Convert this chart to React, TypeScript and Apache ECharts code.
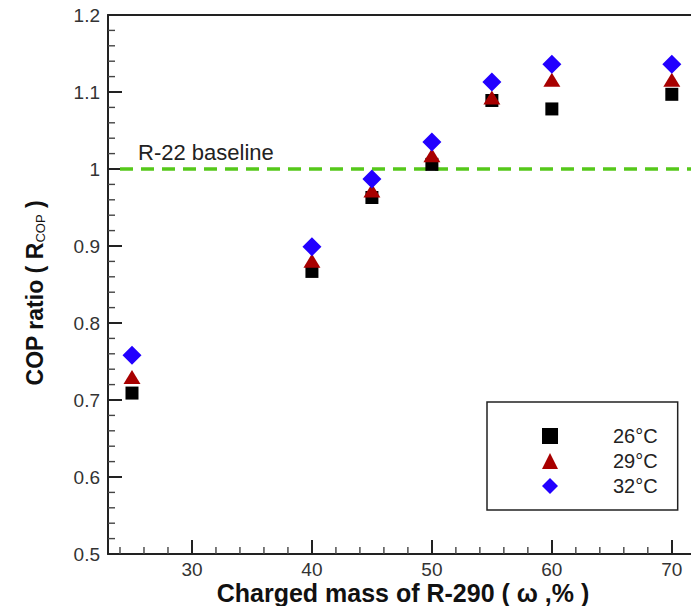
import React, { useEffect, useRef } from "react";
import * as echarts from "echarts";

const chargedMass = [25, 40, 45, 50, 55, 60, 70];
const seriesNames = ["26°C", "29°C", "32°C"];
const cop26 = [0.709, 0.867, 0.963, 1.006, 1.089, 1.078, 1.097];
const cop29 = [0.730, 0.881, 0.972, 1.018, 1.093, 1.116, 1.116];
const cop32 = [0.758, 0.899, 0.987, 1.035, 1.113, 1.136, 1.136];
const xMajorTicks = [30, 40, 50, 60, 70];
const xMinorTicks = [24, 26, 28, 32, 34, 36, 38, 42, 44, 46, 48, 52, 54, 56, 58, 62, 64, 66, 68];
const yMajorTicks = [0.6, 0.7, 0.8, 0.9, 1.0, 1.1];
const yMinorTicks = [
  0.52, 0.54, 0.56, 0.58, 0.62, 0.64, 0.66, 0.68, 0.72, 0.74, 0.76, 0.78,
  0.82, 0.84, 0.86, 0.88, 0.92, 0.94, 0.96, 0.98, 1.02, 1.04, 1.06, 1.08,
  1.12, 1.14, 1.16, 1.18,
];
const baselineValue = 1;

const FONT = "'Liberation Sans', Arial, Helvetica, sans-serif";
const AXIS_COLOR = "#222";
const LABEL_COLOR = "#333";
const X_MIN = 23;
const X_MAX = 71.6;
const Y_MIN = 0.5;
const Y_MAX = 1.2;
const W = 691;
const H = 606;

export default function App() {
  const ref = useRef<HTMLDivElement>(null);
  useEffect(() => {
    if (!ref.current) return;
    const chart = echarts.init(ref.current, null, { renderer: "svg" });
    const pairs = (ys: number[]) => chargedMass.map((x, i) => [x, ys[i]]);
    const textGraphics: any[] = [
      {
        id: "baselineText",
        type: "text",
        x: 138,
        y: 152,
        style: { text: "R-22 baseline", fontSize: 22, fill: "#222", fontFamily: FONT, verticalAlign: "middle", align: "left" },
      },
      {
        id: "xTitle",
        type: "text",
        x: 403,
        y: 593,
        style: {
          text: "Charged mass of R-290 ( ω ,% )",
          fontSize: 25,
          fontWeight: "bold",
          fill: "#111",
          fontFamily: FONT,
          align: "center",
          verticalAlign: "middle",
        },
      },
      {
        id: "yTitle",
        type: "text",
        x: 35,
        y: 293,
        rotation: Math.PI / 2,
        style: {
          text: "COP ratio ( R{sub|COP} )",
          fontSize: 23,
          fontWeight: "bold",
          fill: "#111",
          fontFamily: FONT,
          align: "center",
          verticalAlign: "middle",
          rich: {
            sub: { fontSize: 13, fontWeight: "normal", fontFamily: FONT, fill: "#111", padding: [10, 0, 0, 0] },
          },
        },
      },
    ];
    const option: any = {
      animation: false,
      backgroundColor: "#fff",
      textStyle: { fontFamily: FONT },
      grid: { left: 108, top: 15, right: 0, bottom: 52, containLabel: false },
      xAxis: [
        {
          type: "value",
          min: X_MIN,
          max: X_MAX,
          position: "bottom",
          axisLine: { show: true, lineStyle: { color: AXIS_COLOR, width: 2 } },
          axisTick: { show: true, inside: true, length: 14, customValues: xMajorTicks, lineStyle: { color: AXIS_COLOR, width: 2 } },
          axisLabel: { customValues: xMajorTicks, color: LABEL_COLOR, fontSize: 19, margin: 6, fontFamily: FONT },
          splitLine: { show: false },
        },
        {
          type: "value",
          min: X_MIN,
          max: X_MAX,
          position: "top",
          axisLine: { show: true, lineStyle: { color: AXIS_COLOR, width: 2 } },
          axisTick: { show: false },
          axisLabel: { show: false },
          splitLine: { show: false },
        },
      ],
      yAxis: {
        type: "value",
        min: Y_MIN,
        max: Y_MAX,
        interval: 0.1,
        axisLine: { show: true, lineStyle: { color: AXIS_COLOR, width: 2 } },
        axisTick: { show: true, inside: true, length: 14, lineStyle: { color: AXIS_COLOR, width: 2 } },
        axisLabel: { color: LABEL_COLOR, fontSize: 19, margin: 8, fontFamily: FONT },
        splitLine: { show: false },
      },
      legend: {
        orient: "vertical",
        left: 487,
        top: 402,
        padding: [24, 20, 14, 55],
        itemWidth: 16,
        itemHeight: 16,
        itemGap: 5,
        borderColor: AXIS_COLOR,
        borderWidth: 1.5,
        selectedMode: false,
        textStyle: { fontSize: 20, color: "#222", fontFamily: FONT, padding: [0, 0, 0, 50] },
        data: seriesNames,
      },
      series: [
        {
          name: seriesNames[0],
          type: "scatter",
          symbol: "rect",
          symbolSize: 13,
          itemStyle: { color: "#000", opacity: 1 },
          data: pairs(cop26),
          z: 3,
          markLine: {
            silent: true,
            symbol: "none",
            label: { show: false },
            lineStyle: { color: "#55c81a", width: 3.5, type: [13, 8] },
            data: [[{ coord: [24, baselineValue] }, { coord: [X_MAX, baselineValue] }]],
            z: 1,
          },
        },
        {
          name: seriesNames[1],
          type: "scatter",
          symbol: "triangle",
          symbolSize: [17, 14],
          itemStyle: { color: "#a80000", opacity: 1 },
          data: pairs(cop29),
          z: 4,
        },
        {
          name: seriesNames[2],
          type: "scatter",
          symbol: "diamond",
          symbolSize: [19, 19],
          itemStyle: { color: "#2200ff", opacity: 1 },
          data: pairs(cop32),
          z: 5,
        },
      ],
      graphic: textGraphics,
    };
    chart.setOption(option);

    // Minor ticks placed through the chart's own scales
    const tickEls: any[] = [];
    const addX = (v: number, len: number, i: number) => {
      const p = chart.convertToPixel({ xAxisIndex: 0, yAxisIndex: 0 } as any, [v, Y_MIN]) as number[];
      tickEls.push({
        id: `xtm${i}`,
        type: "rect",
        z: 100,
        shape: { x: p[0] - 0.7, y: p[1] - len, width: 1.4, height: len },
        style: { fill: "#444" },
      });
    };
    const addY = (v: number, len: number, i: number) => {
      const p = chart.convertToPixel({ xAxisIndex: 0, yAxisIndex: 0 } as any, [X_MIN, v]) as number[];
      tickEls.push({
        id: `ytm${i}`,
        type: "rect",
        z: 100,
        shape: { x: p[0], y: p[1] - 0.7, width: len, height: 1.4 },
        style: { fill: "#444" },
      });
    };
    xMinorTicks.forEach((v, i) => addX(v, 7, i));
    yMinorTicks.forEach((v, i) => addY(v, 7, i));
    chart.setOption({ graphic: [...textGraphics, ...tickEls] });

    return () => chart.dispose();
  }, []);
  return (
    <div
      ref={ref}
      style={{ position: "absolute", left: 0, top: 0, width: W, height: H, background: "#fff" }}
    />
  );
}
